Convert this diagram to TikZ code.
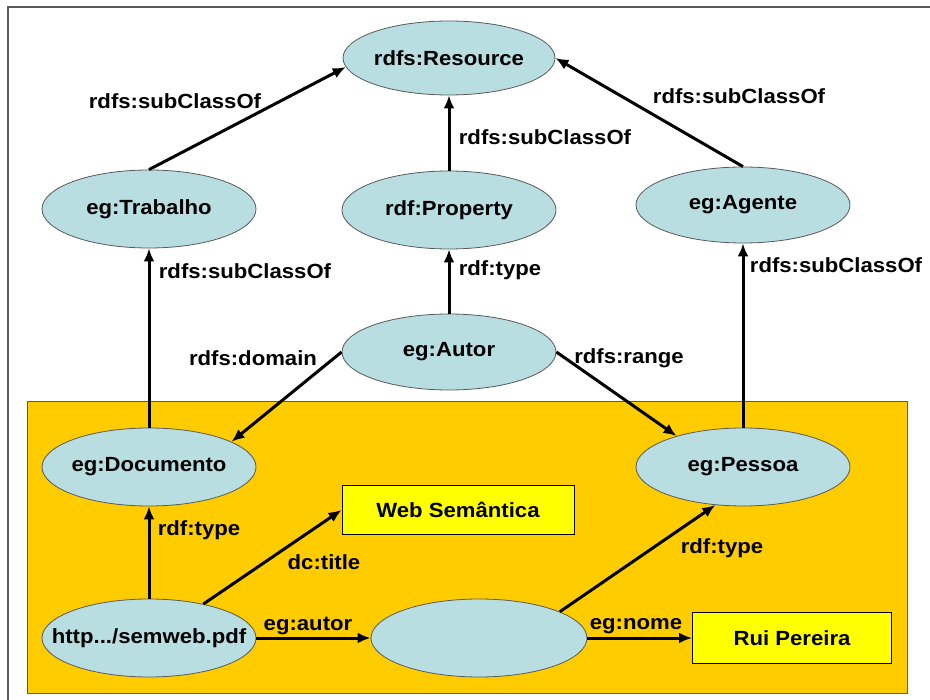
\documentclass[tikz,border=0pt]{standalone}
\usepackage{fontspec}
\setmainfont{Liberation Sans}[FakeStretch=1.08]
\usetikzlibrary{arrows.meta,shapes.geometric}
\definecolor{conceptblue}{RGB}{184,222,226}
\definecolor{graphorange}{RGB}{255,204,0}
\definecolor{literalyellow}{RGB}{255,255,0}
\definecolor{bordergray}{RGB}{90,90,90}

\begin{document}
\begin{tikzpicture}[x=1pt, y=-1pt,
    concept/.style={draw=bordergray, line width=0.8pt, fill=conceptblue, ellipse, inner sep=0pt, minimum width=214pt, minimum height=78pt, font=\fontsize{20.5}{24}\selectfont\bfseries},
    literal/.style={draw=black, line width=1pt, fill=literalyellow, rectangle, inner sep=0pt, font=\fontsize{20.5}{24}\selectfont\bfseries},
    prop/.style={inner sep=0pt, font=\fontsize{20.5}{24}\selectfont\bfseries},
    rel/.style={line width=3pt, -{Latex[length=13pt,width=11pt]}}]
    \useasboundingbox (0,0) rectangle (930,700);
    \fill[white] (0,0) rectangle (930,700);
    \draw[bordergray, line width=1.8pt] (8,700) -- (8,7) -- (930,7);
    \draw[bordergray, line width=1pt, fill=graphorange] (27,402) rectangle (907,693);

    \node[concept, minimum width=212pt, minimum height=74pt] (resource) at (449,58) {\makebox[0pt]{rdfs:Resource}};
    \node[concept] (trabalho) at (149,209) {eg:Trabalho};
    \node[concept] (property) at (449,210) {rdf:Property};
    \node[concept, minimum height=76pt] (agente) at (743,205) {eg:Agente};
    \node[concept, minimum height=76pt] (autor) at (449,352) {eg:Autor};
    \node[concept] (documento) at (149,467) {\makebox[0pt]{eg:Documento}};
    \node[concept] (pessoa) at (743,467) {eg:Pessoa};
    \node[concept] (semweb) at (149,638) {\makebox[0pt]{http.../semweb.pdf}};
    \node[concept, minimum width=216pt] (blank) at (479,638) {};
    \node[literal, minimum width=232pt, minimum height=49pt] (titulo) at (458,510) {Web Semântica};
    \node[literal, minimum width=199pt, minimum height=50pt] (nome) at (792,638) {Rui Pereira};

    \draw[rel] (trabalho.north) -- (resource.185);
    \draw[rel] (property.north) -- (resource.south);
    \draw[rel] (agente.north) -- (resource.east);
    \draw[rel] (documento.north) -- (trabalho.south);
    \draw[rel] (autor.north) -- (property.south);
    \draw[rel] (pessoa.north) -- (agente.south);
    \draw[rel] (autor.west) -- (documento.17);
    \draw[rel] (autor.east) -- (pessoa.155);
    \draw[rel] (semweb.north) -- (documento.south);
    \draw[rel] (semweb.32) -- (titulo.west);
    \draw[rel] (semweb.east) -- (blank.west);
    \draw[rel] (blank.18) -- (pessoa.234);
    \draw[rel] (blank.east) -- (nome.west);

    \node[prop] (sub1) at (175,101) {rdfs:subClassOf};
    \node[prop] (sub2) at (545,137) {rdfs:subClassOf};
    \node[prop] (sub3) at (739,96) {rdfs:subClassOf};
    \node[prop] (sub4) at (245,271) {rdfs:subClassOf};
    \node[prop] (type1) at (500,270) {rdf:type};
    \node[prop] (sub5) at (836,265) {rdfs:subClassOf};
    \node[prop] (domain) at (253,358) {rdfs:domain};
    \node[prop] (range) at (629,358) {rdfs:range};
    \node[prop] (type2) at (199,530) {rdf:type};
    \node[prop] (title) at (324,562) {dc:title};
    \node[prop] (autorlbl) at (308,626) {eg:autor};
    \node[prop] (type3) at (722,548) {rdf:type};
    \node[prop] (nomelbl) at (636,626) {eg:nome};
\end{tikzpicture}
\end{document}
